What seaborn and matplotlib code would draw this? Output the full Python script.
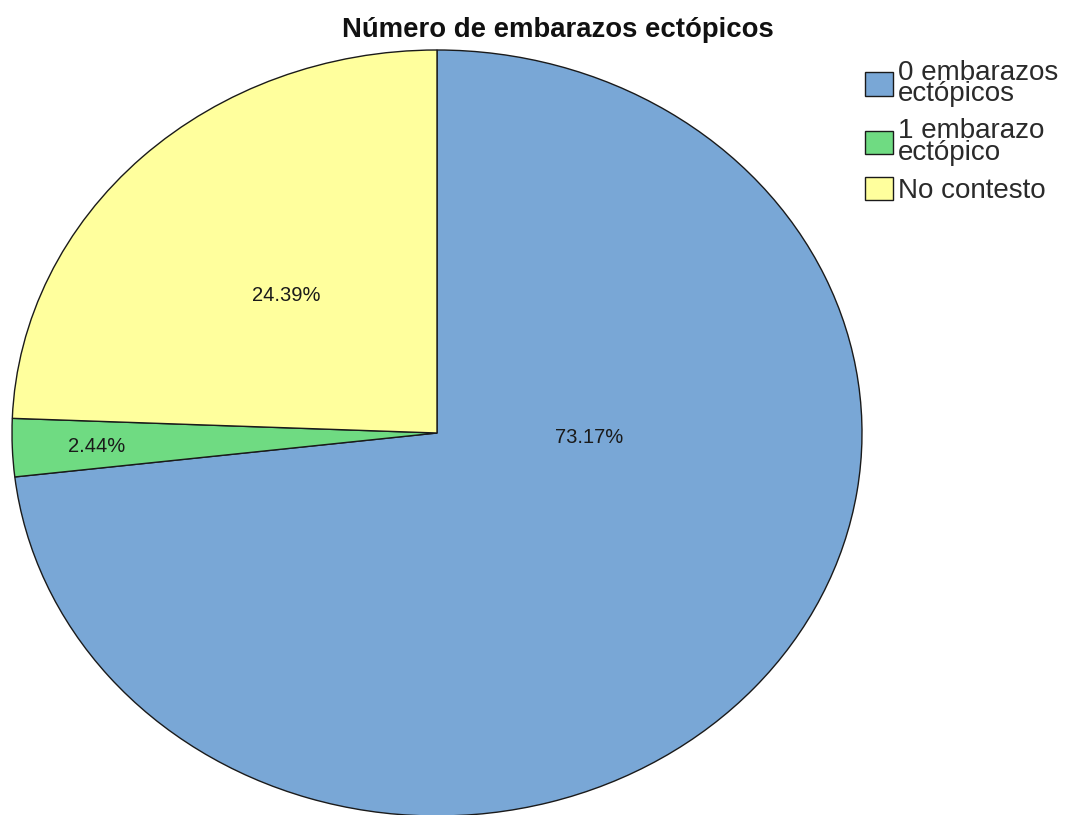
import matplotlib
matplotlib.use("Agg")
import matplotlib.pyplot as plt
import seaborn as sns

sns.set_style("white")
plt.rcParams["font.family"] = ["Liberation Sans", "DejaVu Sans"]

# Data
categories = ["0 embarazos\nectópicos", "1 embarazo\nectópico", "No contesto"]
percentages = [73.17, 2.44, 24.39]
colors = sns.color_palette(["#79a7d6", "#6fdb82", "#ffff9d"])

# Label anchor points inside each wedge (normalised pie coordinates)
label_pos = [(0.358, -0.012), (-0.80, -0.034), (-0.355, 0.36)]

W, H = 1068, 815
fig = plt.figure(figsize=(W / 100, H / 100), dpi=100)
fig.patch.set_facecolor("white")

# Pie is drawn stretched into an ellipse filling this box
left, right, top, bottom = 12, 862, 50, 816
ax = fig.add_axes([left / W, (H - bottom) / H, (right - left) / W, (bottom - top) / H])

wedges, _ = ax.pie(
    percentages,
    colors=colors,
    startangle=90,
    counterclock=False,
    radius=1,
    wedgeprops=dict(edgecolor="#1a1a1a", linewidth=1.0),
)
ax.set_xlim(-1.0, 1.0)
ax.set_ylim(-1.0, 1.0)
ax.set_aspect("auto")
ax.axis("off")

for (x, y), p in zip(label_pos, percentages):
    ax.text(x, y, f"{p:.2f}%", ha="center", va="center", fontsize=14.5, color="#1a1a1a")

fig.text(558 / W, 1 - 37 / H, "Número de embarazos ectópicos",
         ha="center", va="baseline", fontsize=19.8, fontweight="bold", color="#111111")

leg = fig.legend(
    wedges, categories,
    loc="upper left", bbox_to_anchor=(865 / W, 1 - 60 / H),
    frameon=False, fontsize=20, borderpad=0, borderaxespad=0,
    handlelength=1.0, handleheight=0.9, handletextpad=0.18, labelspacing=0.4,
)
for t in leg.get_texts():
    t.set_linespacing(0.76)
    t.set_color("#2a2a2a")

fig.savefig("out.png", dpi=100, facecolor="white")
